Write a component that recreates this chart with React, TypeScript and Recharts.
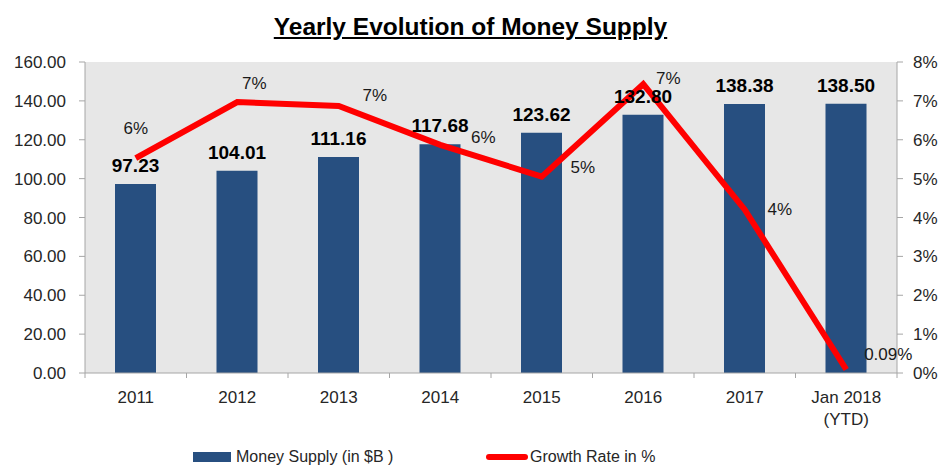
import React from 'react';
import { ComposedChart, Bar, Line, XAxis, YAxis, CartesianGrid, LabelList, Legend } from 'recharts';

const years = ['2011', '2012', '2013', '2014', '2015', '2016', '2017', 'Jan 2018\n(YTD)'];
const moneySupply = [97.23, 104.01, 111.16, 117.68, 123.62, 132.8, 138.38, 138.5];
const growthRate = [5.53, 6.97, 6.87, 5.87, 5.05, 7.43, 4.2, 0.09];
const growthLabels = ['6%', '7%', '7%', '6%', '5%', '7%', '4%', '0.09%'];
const leftTicks = [0, 20, 40, 60, 80, 100, 120, 140, 160];
const rightTicks = [0, 1, 2, 3, 4, 5, 6, 7, 8];

const data = years.map((y, i) => ({
  year: y,
  supply: moneySupply[i],
  growth: growthRate[i],
  growthLabel: growthLabels[i],
}));

// label nudges (dx, dy) relative to each line point
const labelNudges = [
  [0, -30], [17, -19], [36, -10], [43, -7], [41, -9], [25, -6], [35, 0], [42, -15],
];

const FONT = '"Liberation Sans", Arial, sans-serif';
const BAR = '#274F80';
const RED = '#FF0000';
const AXIS = '#A6A6A6';
const TEXT = '#262626';

const W = 941;
const H = 465;
const LEFT_W = 85;
const RIGHT_W = 44;
const TOP = 62;
const PLOT_BOTTOM = 373;
const BAND = (W - LEFT_W - RIGHT_W) / years.length;

const XTick = (props: any) => {
  const { x, payload, index } = props;
  const lines = String(payload.value).split('\n');
  const half = BAND / 2;
  return (
    <g>
      <line x1={x - half} x2={x - half} y1={PLOT_BOTTOM} y2={PLOT_BOTTOM + 5} stroke={AXIS} />
      {index === years.length - 1 && (
        <line x1={x + half} x2={x + half} y1={PLOT_BOTTOM} y2={PLOT_BOTTOM + 5} stroke={AXIS} />
      )}
      <text x={x} y={PLOT_BOTTOM + 30} textAnchor="middle" fontSize={17} fill={TEXT} fontFamily={FONT}>
        {lines.map((l, i) => (
          <tspan key={i} x={x} dy={i === 0 ? 0 : 22}>
            {l}
          </tspan>
        ))}
      </text>
    </g>
  );
};

const GrowthLabel = (props: any) => {
  const { x, y, index, value } = props;
  const [dx, dy] = labelNudges[index] || [0, -20];
  return (
    <text
      x={x + dx}
      y={y + dy}
      textAnchor="middle"
      dominantBaseline="central"
      fontSize={17}
      fill="#1a1a1a"
      fontFamily={FONT}
    >
      {value}
    </text>
  );
};

const renderLegend = () => (
  <div style={{ position: 'relative', width: W, height: 30, fontFamily: FONT, fontSize: 16, color: TEXT }}>
    <div style={{ position: 'absolute', left: 193, top: 17, width: 38, height: 10, background: BAR }} />
    <span style={{ position: 'absolute', left: 236, top: 13, lineHeight: '18px', whiteSpace: 'nowrap' }}>
      Money Supply (in $B )
    </span>
    <div style={{ position: 'absolute', left: 486, top: 19, width: 42, height: 6, background: RED, borderRadius: 3 }} />
    <span style={{ position: 'absolute', left: 530, top: 13, lineHeight: '18px', whiteSpace: 'nowrap' }}>
      Growth Rate in %
    </span>
  </div>
);

export default function App() {
  return (
    <div style={{ position: 'absolute', left: 0, top: 0, width: W, height: H, background: '#fff' }}>
      <div
        style={{
          position: 'absolute',
          left: 0,
          top: 13,
          width: W,
          textAlign: 'center',
          fontFamily: FONT,
          fontWeight: 'bold',
          fontSize: 24.5,
          textDecoration: 'underline',
          color: '#000',
          zIndex: 2,
        }}
      >
        Yearly Evolution of Money Supply
      </div>
      <ComposedChart
        width={W}
        height={H}
        data={data}
        margin={{ top: TOP, right: 0, bottom: 0, left: 0 }}
        barCategoryGap="60%"
      >
        <CartesianGrid fill="#E7E7E7" horizontal={false} vertical={false} stroke="none" />
        <XAxis
          dataKey="year"
          xAxisId={0}
          height={62}
          axisLine={{ stroke: AXIS }}
          tickLine={false}
          tick={<XTick />}
          interval={0}
        />
        <YAxis
          yAxisId="left"
          orientation="left"
          width={LEFT_W}
          domain={[0, 160]}
          ticks={leftTicks}
          tickFormatter={(v: number) => v.toFixed(2)}
          axisLine={{ stroke: AXIS }}
          tickLine={{ stroke: AXIS }}
          tickSize={6}
          tickMargin={13}
          tick={{ fontSize: 17, fill: TEXT, fontFamily: FONT }}
        />
        <YAxis
          yAxisId="right"
          orientation="right"
          width={RIGHT_W}
          domain={[0, 8]}
          ticks={rightTicks}
          tickFormatter={(v: number) => `${v}%`}
          axisLine={{ stroke: AXIS }}
          tickLine={{ stroke: AXIS }}
          tickSize={6}
          tickMargin={10}
          tick={{ fontSize: 17, fill: TEXT, fontFamily: FONT }}
        />
        <Legend verticalAlign="bottom" height={30} content={renderLegend} wrapperStyle={{ left: 0, width: W }} />
        <Bar
          yAxisId="left"
          dataKey="supply"
          name="Money Supply (in $B )"
          fill={BAR}
          barSize={41}
          isAnimationActive={false}
        >
          <LabelList
            dataKey="supply"
            position="top"
            offset={12}
            formatter={(v: any) => Number(v).toFixed(2)}
            style={{ fontSize: 19, fontWeight: 'bold', fill: '#000', fontFamily: FONT }}
          />
        </Bar>
        <Line
          yAxisId="right"
          dataKey="growth"
          name="Growth Rate in %"
          type="linear"
          stroke={RED}
          strokeWidth={6}
          dot={false}
          activeDot={false}
          strokeLinejoin="miter"
          isAnimationActive={false}
        >
          <LabelList dataKey="growthLabel" content={<GrowthLabel />} />
        </Line>
      </ComposedChart>
    </div>
  );
}
